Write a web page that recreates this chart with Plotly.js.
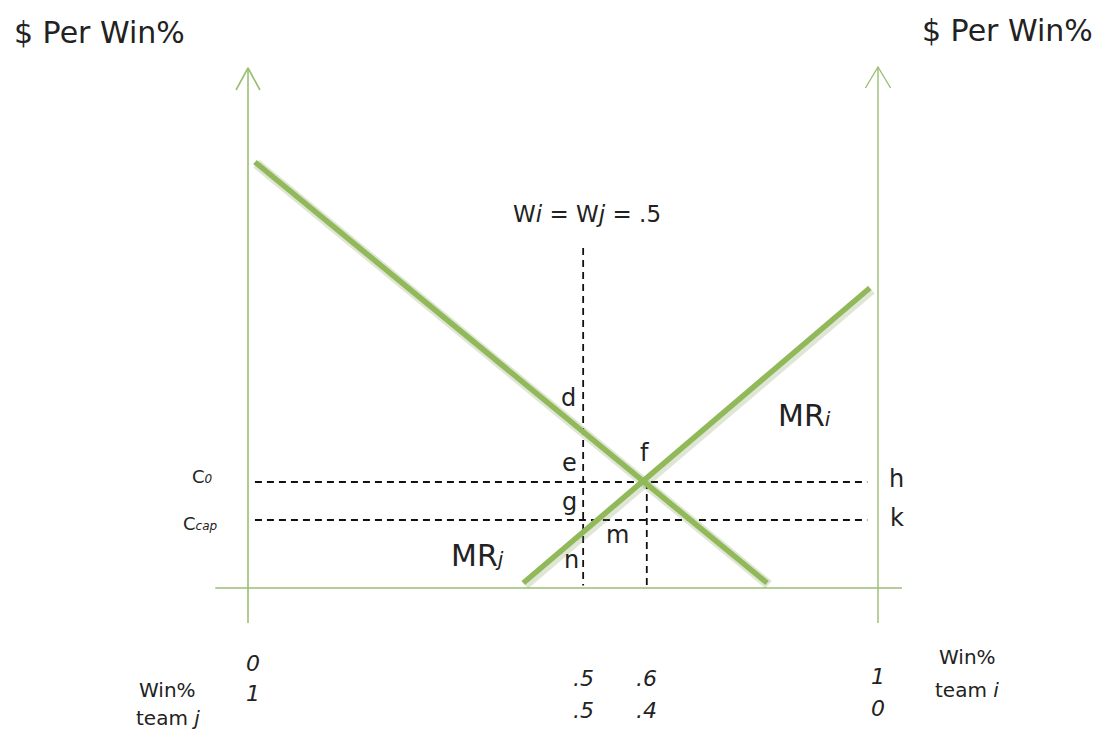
<!DOCTYPE html>
<html>
<head>
<meta charset="utf-8">
<script src="https://cdn.plot.ly/plotly-3.0.1.min.js"></script>
<style>html,body{margin:0;padding:0;background:#fff;}#chart{width:1105px;height:738px;}</style>
</head>
<body>
<div id="chart"></div>
<script>
// Schematic diagram units: x = win% position (left axis 0, right axis 100), y = $ per win% (horizontal axis 0)
var mrjX = [1.1, 82.4];
var mrjY = [85.2, 1.0];
var mriX = [43.7, 98.7];
var mriY = [1.0, 60.0];

var eqX = 63.3;      // equilibrium f (win% .6 / .4)
var halfX = 53.2;    // Wi = Wj = .5
var c0Y = 21.2;      // C0 level
var ccapY = 13.6;    // Ccap level
var dashXStart = 1.1, dashXEnd = 98.3;
var halfTopY = 68;

var tickPos = [0.8, halfX, eqX, 100];
var tickTeamI = ['0', '.5', '.6', '1'];
var tickTeamJ = ['1', '.5', '.4', '0'];

var pointLabels = ['d', 'e', 'f', 'g', 'm', 'n', 'h', 'k'];
var pointLabelX = [50.8, 51.0, 62.9, 51.1, 58.6, 51.4, 103.0, 103.0];
var pointLabelY = [38.0, 25.0, 27.0, 17.2, 10.6, 5.6, 21.8, 14.0];

var FONT = '"DejaVu Sans", "Open Sans", sans-serif';
var AXIS_COLOR = 'rgb(155,190,115)';
var LINE_COLOR = 'rgb(145,185,90)';
var SHADOW_COLOR = 'rgba(110,140,70,0.22)';

var traces = [];
function line(x, y, color, width, dash) {
  traces.push({x: x, y: y, type: 'scatter', mode: 'lines', hoverinfo: 'skip',
    line: {color: color, width: width, dash: dash || 'solid'}, showlegend: false});
}

// axes
line([0, 0], [-7, 104], AXIS_COLOR, 1.6);
line([100, 100], [-7, 104.2], AXIS_COLOR, 1.4);
line([-5.2, 103.8], [0, 0], AXIS_COLOR, 1.6);
// arrow heads
line([-1.9, 0, 1.9], [99.6, 104, 99.6], AXIS_COLOR, 1.6);
line([98.0, 100, 102.0], [100.0, 104.2, 100.0], AXIS_COLOR, 1.4);

// dashed guides
var DASH = '7px,5px';
line([dashXStart, dashXEnd], [c0Y, c0Y], '#111', 1.8, DASH);
line([dashXStart, dashXEnd], [ccapY, ccapY], '#111', 1.8, DASH);
line([halfX, halfX], [halfTopY, 0.5], '#111', 1.8, DASH);
line([eqX, eqX], [c0Y, 0.5], '#111', 1.8, DASH);

// MR curves with soft shadow
line(mrjX.map(function(v){return v + 0.25;}), mrjY.map(function(v){return v - 0.35;}), SHADOW_COLOR, 10);
line(mriX.map(function(v){return v + 0.25;}), mriY.map(function(v){return v - 0.35;}), SHADOW_COLOR, 10);
line(mrjX, mrjY, LINE_COLOR, 5.5);
line(mriX, mriY, LINE_COLOR, 5.5);

var ann = [];
function txt(x, y, text, size, extra) {
  var a = {x: x, y: y, xref: 'x', yref: 'y', text: text, showarrow: false,
    font: {family: FONT, size: size, color: '#222'}, xanchor: 'center', yanchor: 'middle'};
  if (extra) for (var k in extra) a[k] = extra[k];
  ann.push(a);
}

for (var i = 0; i < pointLabels.length; i++) {
  txt(pointLabelX[i], pointLabelY[i], pointLabels[i], 24);
}
txt(36.5, 6.6, 'MR<i><span style="font-size:20px">j</span></i>', 30);
txt(88.4, 34.6, 'MR<i><span style="font-size:20px">i</span></i>', 30);
txt(-7.3, 22.4, 'C<i><span style="font-size:12px">0</span></i>', 18);
txt(-7.6, 13.0, 'C<i><span style="font-size:12px">cap</span></i>', 18);
txt(53.8, 74.8, 'W<i>i</i> = W<i>j</i> = .5', 23);

txt(-23.5, 111.2, '$ Per Win%', 30);
txt(120.6, 111.6, '$ Per Win%', 30);

for (var t = 0; t < tickPos.length; t++) {
  var yi = t === 3 ? -17.6 : (t === 0 ? -15.0 : -18.0);
  var yj = t === 3 ? -24.0 : (t === 0 ? -21.0 : -24.4);
  txt(tickPos[t], yi, '<i>' + tickTeamI[t] + '</i>', 22);
  txt(tickPos[t], yj, '<i>' + tickTeamJ[t] + '</i>', 22);
}
txt(-12.7, -20.4, 'Win%', 20);
txt(-12.7, -26.0, 'team <i>j</i>', 20);
txt(114.2, -13.8, 'Win%', 20);
txt(114.2, -20.4, 'team <i>i</i>', 20);

var layout = {
  width: 1105, height: 738, autosize: false,
  margin: {l: 0, r: 0, t: 0, b: 0, pad: 0},
  paper_bgcolor: '#fff', plot_bgcolor: '#fff',
  xaxis: {range: [-248 / 6.3, (1105 - 248) / 6.3], visible: false, fixedrange: true},
  yaxis: {range: [(588 - 738) / 5, 588 / 5], visible: false, fixedrange: true},
  annotations: ann,
  showlegend: false
};

Plotly.newPlot('chart', traces, layout, {displayModeBar: false, staticPlot: true});
</script>
</body>
</html>
